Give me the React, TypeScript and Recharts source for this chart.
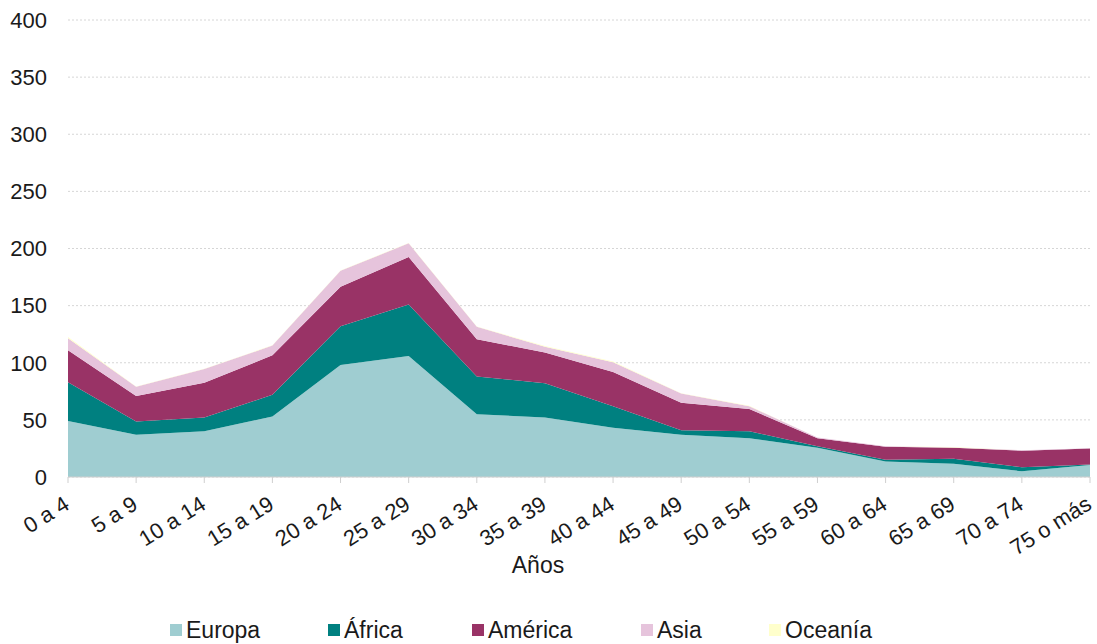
import { AreaChart, Area, XAxis, YAxis, CartesianGrid } from 'recharts';

const ageGroups = ['0 a 4', '5 a 9', '10 a 14', '15 a 19', '20 a 24', '25 a 29', '30 a 34', '35 a 39', '40 a 44', '45 a 49', '50 a 54', '55 a 59', '60 a 64', '65 a 69', '70 a 74', '75 o más'];
const europa = [49, 37, 40, 53, 98, 106, 55, 52, 43, 37, 34, 25.5, 13.5, 11.5, 5, 10.5];
const africa = [34, 11.5, 12, 19, 34, 45, 33, 30, 19, 4, 6, 1.5, 1.5, 4.5, 3.5, 0.5];
const america = [28, 22.5, 30.5, 34.5, 34.5, 41.5, 32.5, 27, 30, 24, 19.5, 7, 11.5, 9.5, 14.5, 14];
const asia = [10.5, 8, 12, 8.5, 14, 12, 11, 5, 8.5, 8, 2.5, 0.5, 0.5, 0.3, 0.5, 0.2];
const oceania = [1, 0.3, 0.3, 0.3, 0.3, 0.3, 0.3, 0.6, 0.6, 0.3, 0.3, 0, 0, 0.5, 0, 0];
const yTicks = [0, 50, 100, 150, 200, 250, 300, 350, 400];

const SERIES = [
  { key: 'Europa', color: '#9fcdd1', legendX: 170 },
  { key: 'África', color: '#008080', legendX: 328 },
  { key: 'América', color: '#993366', legendX: 472 },
  { key: 'Asia', color: '#e6c4dc', legendX: 641 },
  { key: 'Oceanía', color: '#ffffcc', legendX: 769 },
];

const FONT = '"Liberation Sans", Arial, Helvetica, sans-serif';

const data = ageGroups.map((age, i) => ({
  age,
  Europa: europa[i],
  'África': africa[i],
  'América': america[i],
  Asia: asia[i],
  'Oceanía': oceania[i],
}));

const AgeTick = ({ x, y, payload }: any) => {
  const tx = x + 3;
  const ty = y + 25;
  return (
    <text
      x={tx}
      y={ty}
      textAnchor="end"
      fontSize={22}
      fontFamily={FONT}
      fill="#1a1a1a"
      transform={`rotate(-32, ${tx}, ${ty})`}
    >
      {payload.value}
    </text>
  );
};

export default function App() {
  return (
    <div style={{ position: 'absolute', left: 0, top: 0, width: 1097, height: 644, background: '#fff', fontFamily: FONT }}>
      <AreaChart width={1097} height={644} data={data} margin={{ top: 20, right: 7, bottom: 67, left: 0 }}>
        <CartesianGrid vertical={false} stroke="#d6d6d6" strokeDasharray="2 2" />
        <XAxis
          dataKey="age"
          height={100}
          interval={0}
          tick={<AgeTick />}
          tickSize={6}
          tickMargin={0}
          axisLine={{ stroke: '#cfcfcf' }}
          tickLine={{ stroke: '#cfcfcf' }}
          label={{ value: 'Años', position: 'insideBottom', offset: 4, dx: -41, fontSize: 23, fontFamily: FONT, fill: '#1a1a1a' }}
        />
        <YAxis
          width={68}
          domain={[0, 400]}
          ticks={yTicks}
          tickSize={0}
          tickMargin={21}
          axisLine={false}
          tickLine={false}
          tick={{ fontSize: 22, fontFamily: FONT, fill: '#1a1a1a' }}
        />
        {SERIES.map((s) => (
          <Area
            key={s.key}
            type="linear"
            dataKey={s.key}
            stackId="1"
            fill={s.color}
            fillOpacity={1}
            stroke="none"
            isAnimationActive={false}
          />
        ))}
      </AreaChart>
      {SERIES.map((s) => (
        <div key={s.key} style={{ position: 'absolute', left: s.legendX, top: 618, display: 'flex', alignItems: 'center', fontSize: 23, color: '#1a1a1a', lineHeight: '24px' }}>
          <span style={{ display: 'inline-block', width: 12, height: 12, background: s.color, marginRight: 4 }} />
          <span>{s.key}</span>
        </div>
      ))}
    </div>
  );
}
